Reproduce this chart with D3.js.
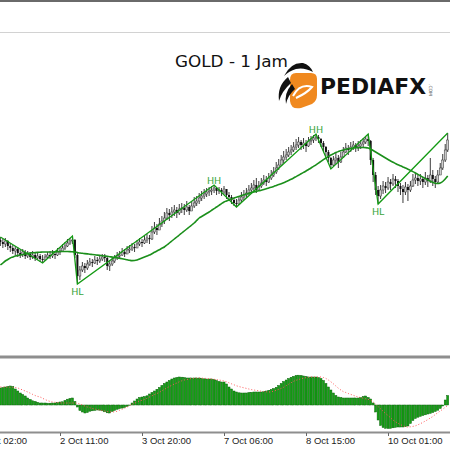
<!DOCTYPE html>
<html>
<head>
<meta charset="utf-8">
<script src="https://cdn.jsdelivr.net/npm/d3@7"></script>
<style>
body { margin: 0; background: #fff; }
svg { display: block; }
</style>
</head>
<body>
<svg id="chart" width="450" height="450"></svg>
<script>

// GOLD H1, visible window (oldest bar first)
var firstOpen = 1476.0;

var closes = [
	1475.8, 1475.6, 1475.9, 1475.4, 1475.2, 1474.9, 1475.1, 1474.7, 1474.5, 1474.8,
	1474.4, 1474.6, 1474.3, 1474.5, 1474.2, 1474.4, 1474.1, 1474.0, 1474.3, 1474.5,
	1474.4, 1474.6, 1474.5, 1474.8, 1474.9, 1475.2, 1475.4, 1475.7, 1475.9, 1476.0,
	1474.5, 1472.4, 1473.0, 1473.4, 1473.2, 1473.6, 1473.8, 1473.7, 1474.0, 1473.9,
	1474.1, 1474.3, 1474.2, 1473.4, 1473.6, 1473.9, 1474.2, 1474.4, 1474.5, 1474.8,
	1474.6, 1475.0, 1475.1, 1475.3, 1475.2, 1475.6, 1475.8, 1475.7, 1476.0, 1476.2,
	1476.1, 1476.8, 1477.2, 1477.0, 1477.6, 1477.9, 1478.2, 1478.7, 1478.5, 1478.8,
	1479.0, 1478.7, 1479.1, 1479.2, 1479.0, 1479.3, 1478.9, 1479.4, 1479.7, 1479.9,
	1480.2, 1480.4, 1480.6, 1480.8, 1480.9, 1481.0, 1481.2, 1480.9, 1481.0, 1480.8,
	1481.1, 1480.5, 1480.3, 1480.0, 1479.7, 1479.6, 1480.0, 1480.3, 1480.5, 1480.7,
	1481.0, 1481.2, 1481.5, 1481.0, 1481.4, 1481.7, 1482.0, 1481.8, 1482.2, 1482.5,
	1482.8, 1483.2, 1483.5, 1484.0, 1484.3, 1484.5, 1484.8, 1485.0, 1485.3, 1485.5,
	1485.8, 1485.5, 1485.7, 1485.4, 1485.9, 1486.0, 1486.2, 1486.3, 1486.1, 1485.7,
	1485.3, 1484.8, 1484.2, 1483.5, 1484.0, 1484.2, 1483.8, 1484.3, 1484.8, 1485.2,
	1485.0, 1485.3, 1485.5, 1485.2, 1485.4, 1485.6, 1485.8, 1486.1, 1485.9, 1484.0,
	1482.5, 1481.0, 1480.4, 1481.0, 1481.4, 1481.2, 1481.8, 1481.6, 1482.1, 1481.9,
	1481.4, 1481.1, 1480.8, 1481.3, 1481.0, 1481.4, 1482.0, 1482.2, 1481.9, 1482.1,
	1481.8, 1482.2, 1481.9, 1482.5, 1482.1, 1481.8, 1482.5, 1483.2, 1484.0, 1485.0,
	1486.0
];

var highs = [
	1476.3, 1476.1, 1476.2, 1476.0, 1475.7, 1475.5, 1475.4, 1475.3, 1475.0, 1475.1,
	1475.0, 1474.9, 1474.8, 1474.9, 1474.7, 1474.8, 1474.6, 1474.5, 1474.6, 1474.8,
	1474.9, 1475.0, 1474.9, 1475.2, 1475.3, 1475.6, 1475.8, 1476.1, 1476.2, 1476.4,
	1476.1, 1474.7, 1473.4, 1473.8, 1473.7, 1474.0, 1474.2, 1474.1, 1474.4, 1474.3,
	1474.5, 1474.6, 1474.6, 1474.3, 1474.0, 1474.3, 1474.5, 1474.8, 1474.9, 1475.2,
	1475.1, 1475.4, 1475.5, 1475.7, 1475.6, 1476.0, 1476.2, 1476.1, 1476.4, 1476.6,
	1476.5, 1477.4, 1477.8, 1477.6, 1478.2, 1478.4, 1478.8, 1479.2, 1479.1, 1479.3,
	1479.5, 1479.3, 1479.6, 1479.7, 1479.6, 1479.9, 1479.5, 1479.9, 1480.3, 1480.4,
	1480.7, 1480.9, 1481.1, 1481.2, 1481.3, 1481.4, 1481.5, 1481.3, 1481.3, 1481.2,
	1481.4, 1481.1, 1480.8, 1480.5, 1480.2, 1480.1, 1480.4, 1480.8, 1481.0, 1481.2,
	1481.5, 1481.7, 1482.0, 1482.2, 1481.9, 1482.2, 1482.5, 1482.4, 1482.7, 1483.0,
	1483.3, 1483.8, 1484.1, 1484.5, 1484.9, 1485.1, 1485.3, 1485.5, 1485.8, 1486.1,
	1486.3, 1486.0, 1486.2, 1486.0, 1486.3, 1486.4, 1486.5, 1486.6, 1486.5, 1486.2,
	1485.9, 1485.4, 1485.0, 1484.3, 1484.4, 1484.7, 1484.5, 1484.8, 1485.3, 1485.7,
	1485.5, 1485.8, 1485.9, 1485.7, 1485.9, 1486.0, 1486.2, 1486.4, 1486.6, 1486.0,
	1484.2, 1482.8, 1481.4, 1481.5, 1481.9, 1481.8, 1482.3, 1482.1, 1482.6, 1482.4,
	1482.1, 1481.7, 1481.5, 1481.8, 1481.6, 1481.9, 1482.6, 1482.7, 1482.5, 1482.6,
	1482.3, 1482.8, 1482.5, 1484.2, 1483.0, 1482.4, 1483.0, 1483.7, 1484.6, 1485.6,
	1486.7
];

var lows = [
	1475.4, 1475.2, 1475.3, 1475.0, 1474.8, 1474.6, 1474.5, 1474.3, 1474.2, 1474.3,
	1474.1, 1474.2, 1474.0, 1474.1, 1473.9, 1474.0, 1473.8, 1473.7, 1473.9, 1474.1,
	1474.1, 1474.2, 1474.1, 1474.4, 1474.5, 1474.8, 1475.0, 1475.3, 1475.5, 1475.6,
	1474.2, 1471.6, 1472.0, 1472.8, 1472.7, 1473.0, 1473.4, 1473.3, 1473.6, 1473.5,
	1473.7, 1473.9, 1473.8, 1473.0, 1472.9, 1473.4, 1473.7, 1474.0, 1474.1, 1474.4,
	1474.3, 1474.6, 1474.7, 1474.9, 1474.8, 1475.2, 1475.4, 1475.3, 1475.6, 1475.7,
	1475.6, 1476.0, 1476.6, 1476.5, 1477.0, 1477.3, 1477.6, 1478.0, 1477.9, 1478.2,
	1478.4, 1478.2, 1478.5, 1478.7, 1478.5, 1478.8, 1478.5, 1478.9, 1479.2, 1479.4,
	1479.6, 1479.9, 1480.1, 1480.3, 1480.4, 1480.5, 1480.7, 1480.5, 1480.6, 1480.4,
	1480.6, 1480.1, 1479.9, 1479.6, 1479.4, 1479.3, 1479.5, 1479.8, 1480.0, 1480.2,
	1480.5, 1480.6, 1480.9, 1480.7, 1480.9, 1481.2, 1481.5, 1481.4, 1481.7, 1482.0,
	1482.3, 1482.6, 1483.0, 1483.4, 1483.7, 1484.0, 1484.3, 1484.5, 1484.8, 1485.0,
	1485.2, 1485.0, 1485.1, 1484.8, 1485.3, 1485.5, 1485.7, 1485.9, 1485.7, 1485.3,
	1484.9, 1484.4, 1483.8, 1483.1, 1483.4, 1483.6, 1483.2, 1483.7, 1484.2, 1484.7,
	1484.5, 1484.8, 1485.0, 1484.8, 1484.9, 1485.1, 1485.3, 1485.6, 1485.4, 1483.5,
	1481.8, 1480.5, 1479.6, 1480.1, 1480.6, 1480.7, 1481.0, 1481.0, 1481.4, 1481.2,
	1480.8, 1480.5, 1479.7, 1480.5, 1479.9, 1480.8, 1481.3, 1481.6, 1481.4, 1481.5,
	1481.2, 1481.5, 1481.3, 1481.7, 1481.4, 1481.2, 1481.7, 1482.5, 1483.0, 1483.8,
	1484.8
];

// moving average as shown on the chart
var maValues = [
	1473.5, 1473.7, 1473.9, 1474.05, 1474.2, 1474.3, 1474.4, 1474.45, 1474.5, 1474.55,
	1474.6, 1474.65, 1474.7, 1474.72, 1474.74, 1474.76, 1474.78, 1474.8, 1474.8, 1474.8,
	1474.8, 1474.8, 1474.82, 1474.84, 1474.85, 1474.85, 1474.85, 1474.85, 1474.84, 1474.82,
	1474.8, 1474.75, 1474.7, 1474.67, 1474.64, 1474.61, 1474.58, 1474.55, 1474.52, 1474.49,
	1474.46, 1474.43, 1474.4, 1474.37, 1474.33, 1474.3, 1474.26, 1474.22, 1474.17, 1474.12,
	1474.07, 1474.02, 1473.97, 1473.94, 1473.95, 1474.0, 1474.1, 1474.2, 1474.3, 1474.4,
	1474.5, 1474.63, 1474.77, 1474.9, 1475.03, 1475.17, 1475.3, 1475.5, 1475.7, 1475.9,
	1476.1, 1476.3, 1476.5, 1476.7, 1476.9, 1477.1, 1477.3, 1477.5, 1477.7, 1477.95,
	1478.2, 1478.35, 1478.5, 1478.65, 1478.8, 1478.97, 1479.14, 1479.3, 1479.47, 1479.64,
	1479.8, 1479.9, 1480.0, 1480.1, 1480.2, 1480.28, 1480.36, 1480.44, 1480.52, 1480.6,
	1480.68, 1480.74, 1480.8, 1480.86, 1480.92, 1480.98, 1481.05, 1481.12, 1481.2, 1481.28,
	1481.36, 1481.45, 1481.54, 1481.63, 1481.73, 1481.84, 1481.95, 1482.07, 1482.2, 1482.34,
	1482.48, 1482.62, 1482.76, 1482.9, 1483.05, 1483.2, 1483.36, 1483.52, 1483.69, 1483.86,
	1484.03, 1484.2, 1484.36, 1484.5, 1484.62, 1484.74, 1484.84, 1484.93, 1485.0, 1485.07,
	1485.13, 1485.17, 1485.2, 1485.22, 1485.24, 1485.25, 1485.25, 1485.24, 1485.2, 1485.1,
	1484.95, 1484.8, 1484.65, 1484.5, 1484.35, 1484.2, 1484.05, 1483.9, 1483.77, 1483.65,
	1483.53, 1483.42, 1483.31, 1483.2, 1483.08, 1482.96, 1482.84, 1482.7, 1482.56, 1482.42,
	1482.28, 1482.14, 1482.0, 1481.88, 1481.77, 1481.68, 1481.65, 1481.7, 1481.85, 1482.1,
	1482.4
];

// zigzag swing points (bar index, price)
var zzBars = [0, 17, 29, 31, 86, 95, 127, 133, 148, 152, 180];
var zzPrices = [1476.3, 1473.7, 1476.4, 1471.6, 1481.5, 1479.3, 1486.6, 1483.1, 1486.6, 1479.6, 1486.7];

var labelBars = [31, 86, 127, 152];
var labelTexts = ["HL", "HH", "HH", "HL"];

// MACD histogram + signal
var macdHist = [
	0.85, 0.875, 0.9, 0.925, 0.95, 0.925, 0.8, 0.7, 0.6, 0.525,
	0.45, 0.35, 0.275, 0.21, 0.175, 0.135, 0.1, 0.1, 0.1, 0.09,
	0.09, 0.1, 0.1, 0.125, 0.15, 0.16, 0.225, 0.29, 0.325, 0.35,
	0.175, -0.1, -0.275, -0.35, -0.4, -0.375, -0.31, -0.29, -0.27, -0.25,
	-0.26, -0.29, -0.34, -0.39, -0.4, -0.325, -0.27, -0.215, -0.18, -0.155,
	-0.125, -0.075, -0.015, 0.1, 0.2, 0.3, 0.375, 0.4, 0.425, 0.46,
	0.55, 0.625, 0.7, 0.785, 0.875, 0.975, 1.075, 1.15, 1.225, 1.3,
	1.35, 1.375, 1.4, 1.39, 1.37, 1.35, 1.35, 1.35, 1.35, 1.35,
	1.35, 1.33, 1.31, 1.3, 1.3, 1.3, 1.275, 1.225, 1.175, 1.15,
	1.15, 1.05, 0.9, 0.8, 0.7, 0.65, 0.61, 0.6, 0.6, 0.6,
	0.62, 0.635, 0.65, 0.65, 0.65, 0.65, 0.67, 0.7, 0.735, 0.775,
	0.825, 0.885, 0.975, 1.075, 1.175, 1.25, 1.325, 1.385, 1.435, 1.475,
	1.49, 1.475, 1.45, 1.425, 1.4, 1.4, 1.4, 1.4, 1.375, 1.325,
	1.225, 1.075, 0.9, 0.75, 0.6, 0.475, 0.4, 0.375, 0.35, 0.35,
	0.35, 0.35, 0.35, 0.35, 0.35, 0.375, 0.425, 0.45, 0.375, 0.3,
	0.1, -0.35, -0.75, -1.025, -1.125, -1.165, -1.175, -1.165, -1.14, -1.115,
	-1.1, -1.1, -1.1, -1.085, -1.05, -0.925, -0.775, -0.675, -0.61, -0.565,
	-0.525, -0.49, -0.45, -0.415, -0.375, -0.325, -0.26, -0.175, -0.05, 0.25,
	0.475
];

var macdSignal = [
	0.9, 0.9, 0.9, 0.895, 0.89, 0.885, 0.875, 0.85, 0.8, 0.75,
	0.7, 0.65, 0.59, 0.53, 0.475, 0.43, 0.4, 0.335, 0.275, 0.22,
	0.18, 0.15, 0.135, 0.12, 0.11, 0.1, 0.1, 0.1, 0.1, 0.1,
	0.1, 0.085, 0.05, 0, -0.05, -0.1, -0.14, -0.175, -0.2, -0.23,
	-0.25, -0.275, -0.3, -0.325, -0.35, -0.35, -0.34, -0.31, -0.26, -0.215,
	-0.16, -0.1, -0.025, 0.035, 0.09, 0.15, 0.2, 0.235, 0.28, 0.335,
	0.4, 0.46, 0.52, 0.575, 0.635, 0.71, 0.785, 0.85, 0.925, 0.985,
	1.05, 1.1, 1.16, 1.21, 1.25, 1.275, 1.3, 1.325, 1.34, 1.35,
	1.35, 1.345, 1.335, 1.325, 1.31, 1.3, 1.285, 1.27, 1.25, 1.225,
	1.2, 1.16, 1.11, 1.06, 1.01, 0.96, 0.925, 0.89, 0.86, 0.83,
	0.8, 0.77, 0.75, 0.73, 0.71, 0.69, 0.675, 0.66, 0.65, 0.66,
	0.69, 0.735, 0.785, 0.83, 0.89, 0.965, 1.04, 1.115, 1.185, 1.24,
	1.275, 1.31, 1.34, 1.365, 1.385, 1.4, 1.4, 1.4, 1.4, 1.4,
	1.375, 1.325, 1.25, 1.16, 1.06, 0.95, 0.84, 0.75, 0.67, 0.625,
	0.575, 0.53, 0.485, 0.44, 0.4, 0.37, 0.34, 0.31, 0.28, 0.235,
	0.15, 0.04, -0.075, -0.19, -0.31, -0.425, -0.525, -0.64, -0.75, -0.84,
	-0.915, -0.98, -1.04, -1.08, -1.1, -1.09, -1.07, -1.04, -0.99, -0.935,
	-0.87, -0.8, -0.73, -0.65, -0.575, -0.475, -0.39, -0.3, -0.21, -0.115,
	-0.025
];

var tickBars = [-9, 24, 57, 90, 123, 156];
var tickLabels = ["1 Oct 02:00", "2 Oct 11:00", "3 Oct 20:00", "7 Oct 06:00", "8 Oct 15:00", "10 Oct 01:00"];


var W = 450, H = 450;
var svg = d3.select("#chart");

var x = d3.scaleLinear().domain([0, 180]).range([0.36, 447.7]);
var y = d3.scaleLinear().domain([1470, 1490]).range([300, 100]);
var yM = d3.scaleLinear().domain([-1, 1]).range([425, 385]);

var defs = svg.append("defs");
defs.append("clipPath").attr("id", "clipMain")
	.append("rect").attr("x", 0).attr("y", 33).attr("width", W).attr("height", 322);
defs.append("clipPath").attr("id", "clipSub")
	.append("rect").attr("x", 0).attr("y", 359).attr("width", W).attr("height", 72);

// frame
svg.append("rect").attr("x", 0).attr("y", 0).attr("width", W).attr("height", 2).attr("fill", "#6a6a6a");
svg.append("line").attr("x1", 0).attr("x2", W).attr("y1", 32.5).attr("y2", 32.5)
	.attr("stroke", "#d2d2d2").attr("stroke-width", 1);
svg.append("rect").attr("x", 0).attr("y", 355.5).attr("width", W).attr("height", 3).attr("fill", "#8e8e8e");
svg.append("rect").attr("x", 0).attr("y", 431.5).attr("width", W).attr("height", 2).attr("fill", "#8e8e8e");

// title + logo
svg.append("text")
	.attr("x", 175).attr("y", 67)
	.attr("textLength", 113).attr("lengthAdjust", "spacingAndGlyphs")
	.style("font-family", "'Comic Sans MS', 'DejaVu Sans', sans-serif")
	.style("font-size", "15px")
	.attr("fill", "#111")
	.text("GOLD - 1 Jam");

var logo = svg.append("g");
logo.append("path")
	.attr("d", "M296,73 L311,73 Q317,73 317,79 L317,95 Q317,101 312,104 L301,108 Q291,110 290,101 L290,80 Q290,73 296,73 Z")
	.attr("fill", "#f0891f");
logo.append("path")
	.attr("d", "M293,96 Q300,83 312,87 Q307,93 296,98")
	.attr("fill", "none").attr("stroke", "#fff").attr("stroke-width", 2);
logo.append("path")
	.attr("d", "M284,76 Q291,62 303,63 Q310,65 313,72 Q304,67 296,69 Q289,71 284,76 Z")
	.attr("fill", "#111");
logo.append("path")
	.attr("d", "M288,77 Q277,86 279,101 Q282,91 291,83 Z")
	.attr("fill", "#111");
logo.append("path")
	.attr("d", "M292,84 Q284,93 286,104 Q288,95 295,89 Z")
	.attr("fill", "#111");
logo.append("text")
	.attr("x", 320).attr("y", 94)
	.attr("textLength", 106).attr("lengthAdjust", "spacingAndGlyphs")
	.style("font-family", "'DejaVu Sans', sans-serif")
	.style("font-size", "22px").style("font-weight", "bold")
	.attr("fill", "#111")
	.text("PEDIAFX");
logo.append("text")
	.attr("transform", "translate(429,84) rotate(90)")
	.style("font-family", "'DejaVu Sans', sans-serif")
	.style("font-size", "4.5px")
	.attr("fill", "#555")
	.text(".COM");

// price panel
var main = svg.append("g").attr("clip-path", "url(#clipMain)");

var bars = d3.range(closes.length).map(function (i) {
	return { i: i, o: i ? closes[i - 1] : firstOpen, h: highs[i], l: lows[i], c: closes[i] };
});

main.selectAll("line.wick")
	.data(bars)
	.enter()
	.append("line")
	.attr("class", "wick")
	.attr("x1", function (d) { return x(d.i); })
	.attr("x2", function (d) { return x(d.i); })
	.attr("y1", function (d) { return y(d.h); })
	.attr("y2", function (d) { return y(d.l); })
	.attr("stroke", "#3c3c3c")
	.attr("stroke-width", 1);

main.selectAll("rect.body")
	.data(bars)
	.enter()
	.append("rect")
	.attr("class", "body")
	.attr("x", function (d) { return x(d.i) - 1; })
	.attr("width", 2)
	.attr("y", function (d) { return y(Math.max(d.o, d.c)); })
	.attr("height", function (d) { return Math.max(Math.abs(y(d.o) - y(d.c)), 0.8); })
	.attr("fill", function (d) { return d.c >= d.o ? "#cfcfcf" : "#111"; })
	.attr("stroke", function (d) { return d.c >= d.o ? "#333" : "none"; })
	.attr("stroke-width", 0.5);

main.append("path")
	.datum(maValues)
	.attr("d", d3.line()
		.x(function (d, i) { return x(i); })
		.y(function (d) { return y(d); })
		.curve(d3.curveMonotoneX))
	.attr("fill", "none")
	.attr("stroke", "#1b8f1b")
	.attr("stroke-width", 1.6);

main.append("path")
	.datum(zzBars)
	.attr("d", d3.line()
		.x(function (d) { return x(d); })
		.y(function (d, i) { return y(zzPrices[i]); }))
	.attr("fill", "none")
	.attr("stroke", "#139a13")
	.attr("stroke-width", 1.3);

main.selectAll("text.swing")
	.data(labelBars)
	.enter()
	.append("text")
	.attr("class", "swing")
	.attr("x", function (d) { return x(d); })
	.attr("y", function (d, i) {
		return labelTexts[i] === "HH" ? y(highs[d]) - 1 : y(lows[d]) + 11;
	})
	.attr("text-anchor", "middle")
	.style("font-family", "Tahoma, 'DejaVu Sans', sans-serif")
	.style("font-size", "9.5px")
	.attr("fill", "#3aa53a")
	.text(function (d, i) { return labelTexts[i]; });

// MACD panel
var sub = svg.append("g").attr("clip-path", "url(#clipSub)");

sub.selectAll("rect.hist")
	.data(macdHist)
	.enter()
	.append("rect")
	.attr("class", "hist")
	.attr("x", function (d, i) { return x(i) - 1; })
	.attr("width", 2)
	.attr("y", function (d) { return Math.min(yM(d), yM(0)); })
	.attr("height", function (d) { return Math.abs(yM(d) - yM(0)); })
	.attr("fill", "#14a014")
	.attr("stroke", "#0a640a")
	.attr("stroke-width", 0.5);

sub.append("path")
	.datum(macdSignal)
	.attr("d", d3.line()
		.x(function (d, i) { return x(i); })
		.y(function (d) { return yM(d); })
		.curve(d3.curveMonotoneX))
	.attr("fill", "none")
	.attr("stroke", "#ff5a5a")
	.attr("stroke-width", 1)
	.attr("stroke-dasharray", "1,2");

// time axis
var axis = svg.append("g");
axis.selectAll("line.tick")
	.data(tickBars)
	.enter()
	.append("line")
	.attr("x1", function (d) { return Math.round(x(d)) + 0.5; })
	.attr("x2", function (d) { return Math.round(x(d)) + 0.5; })
	.attr("y1", 433)
	.attr("y2", 436)
	.attr("stroke", "#666");
axis.selectAll("text.tlabel")
	.data(tickBars)
	.enter()
	.append("text")
	.attr("x", function (d) { return x(d); })
	.attr("y", 444)
	.style("font-family", "Tahoma, 'Liberation Sans', sans-serif")
	.style("font-size", "9.5px")
	.attr("fill", "#222")
	.text(function (d, i) { return tickLabels[i]; });

</script>
</body>
</html>
